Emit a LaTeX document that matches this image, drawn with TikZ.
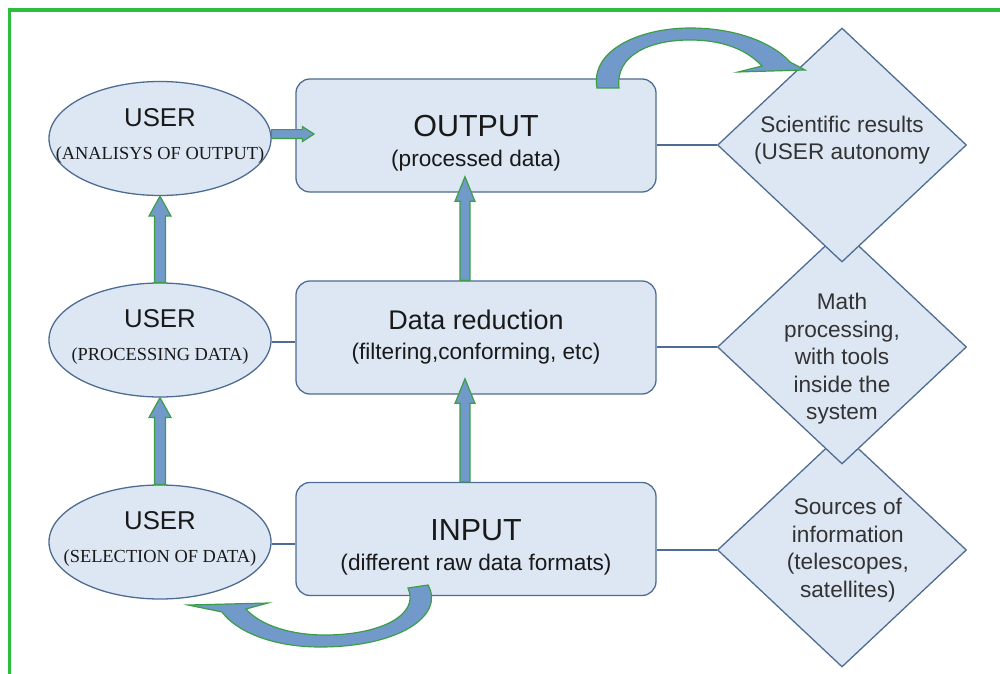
\documentclass[tikz,border=0pt]{standalone}
\usepackage{fontspec}
\setmainfont{Liberation Sans}
\newfontfamily\romfont{Liberation Serif}
\usetikzlibrary{shapes.geometric,calc}
\definecolor{boxfill}{HTML}{DDE7F3}
\definecolor{boxline}{HTML}{4E6B91}
\definecolor{arrfill}{HTML}{7199C9}
\definecolor{arrline}{HTML}{3A9E45}
\definecolor{framegreen}{HTML}{2DBE3E}
\tikzset{
  user/.style={ellipse,draw=boxline,fill=boxfill,line width=1.1pt,minimum width=6.66cm,minimum height=3.42cm,inner sep=0pt},
  utxt/.style={align=center,font=\fontsize{22}{28}\selectfont,text=black!90,yshift=2.5pt},
  stage/.style={rectangle,rounded corners=0.42cm,draw=boxline,fill=boxfill,line width=1.1pt,minimum width=10.8cm,minimum height=3.39cm,inner sep=0pt,align=center,text=black!90,font=\fontsize{19.3}{25.5}\selectfont},
  dmd/.style={diamond,draw=boxline,fill=boxfill,line width=1.1pt,minimum width=7.47cm,minimum height=7.02cm,inner sep=0pt},
  dtxt/.style={align=center,font=\fontsize{19.3}{23.5}\selectfont,text=black!80},
  link/.style={draw=boxline,line width=1.2pt},
  blk/.style={fill=arrfill,draw=arrline,line width=1pt}
}
% block arrows: from, to, half shaft, head length
\newcommand{\blkup}[4]{\filldraw[blk] let \p1=(#1), \p2=(#2) in
  (\x1-#3,\y1) -- (\x1-#3,\y2-#4) -- (\x1-2*#3,\y2-#4) -- (\x1,\y2)
  -- (\x1+2*#3,\y2-#4) -- (\x1+#3,\y2-#4) -- (\x1+#3,\y1) -- cycle;}
\newcommand{\blkright}[2]{\filldraw[blk] let \p1=(#1), \p2=(#2) in
  (\x1,\y1-3.8pt) -- (\x2-10pt,\y1-3.8pt) -- (\x2-10pt,\y1-6.4pt) -- (\x2,\y1)
  -- (\x2-10pt,\y1+6.4pt) -- (\x2-10pt,\y1+3.8pt) -- (\x1,\y1+3.8pt) -- cycle;}
\begin{document}
\begin{tikzpicture}[x=0.03cm,y=-0.03cm]
  \useasboundingbox (0,0) rectangle (1000,674);
  \clip (0,0) rectangle (1000,674);
  \draw[framegreen,line width=3.4pt] (9.5,10) rectangle (1040,720);

  % users
  \node[user,label={[utxt]center:USER\\{\romfont\fontsize{15.7}{19}\selectfont (ANALISYS OF OUTPUT)}}] (ana) at (160,138.5) {};
  \node[user,label={[utxt]center:USER\\{\romfont\fontsize{15.7}{19}\selectfont (PROCESSING DATA)}}] (proc) at (160,340) {};
  \node[user,label={[utxt]center:USER\\{\romfont\fontsize{15.7}{19}\selectfont (SELECTION OF DATA)}}] (sel) at (160,542) {};

  % stages
  \node[stage] (out) at (476,135.5) {{\fontsize{26}{30}\selectfont\rule{0pt}{32pt}OUTPUT}\\(processed data)};
  \node[stage] (red) at (476,337.5) {{\fontsize{23}{27}\selectfont Data reduction}\\(filtering,conforming, etc)};
  \node[stage] (inp) at (476,539) {{\fontsize{26}{30}\selectfont\rule{0pt}{32pt}INPUT}\\(different raw data formats)};

  % diamonds, lowest first
  \node[dmd,label={[dtxt,xshift=5pt]center:Sources of\\information\\(telescopes,\\satellites)}] (src) at (842,550) {};
  \node[dmd,label={[dtxt,yshift=-10pt]center:Math\\processing,\\with tools\\inside the\\system}] (math) at (842,347) {};
  \node[dmd,label={[dtxt,yshift=4pt]center:Scientific results\\(USER autonomy}] (res) at (842,145) {};

  % links
  \draw[link] (out.east |- res.west) -- (res.west);
  \draw[link] (red.east |- math.west) -- (math.west);
  \draw[link] (inp.east |- src.west) -- (src.west);
  \draw[link] ([yshift=-1.7pt]proc.east) -- ([yshift=-1.7pt]proc.east -| red.west);
  \draw[link] ([yshift=-1.7pt]sel.east) -- ([yshift=-1.7pt]sel.east -| inp.west);

  % block arrows
  \blkup{sel.north}{proc.south}{4.7pt}{17pt}
  \blkup{proc.north}{ana.south}{4.7pt}{17pt}
  \blkup{[xshift=-9.4pt]inp.north}{[xshift=-9.4pt,yshift=13.6pt]red.south}{4.25pt}{21pt}
  \blkup{[xshift=-9.4pt]red.north}{[xshift=-9.4pt,yshift=13.6pt]out.south}{4.25pt}{21pt}
  \blkright{[yshift=3.8pt]ana.east}{[xshift=16pt]out.west}

  % curved arrows
  \filldraw[blk] (597,88) .. controls (590,50) and (640,28) .. (690,28)
    .. controls (740,28) and (775,45) .. (790,62) -- (805,70) -- (738,72) -- (762,66)
    .. controls (745,48) and (720,40) .. (690,40) .. controls (650,40) and (615,55) .. (619,88) -- cycle;
  \filldraw[blk] (428,585) .. controls (445,615) and (400,647) .. (320,647)
    .. controls (270,647) and (235,630) .. (222,612) -- (188,605) -- (268,603) -- (246,609)
    .. controls (260,625) and (290,635) .. (325,635) .. controls (380,635) and (420,615) .. (408,588) -- cycle;
\end{tikzpicture}
\end{document}
